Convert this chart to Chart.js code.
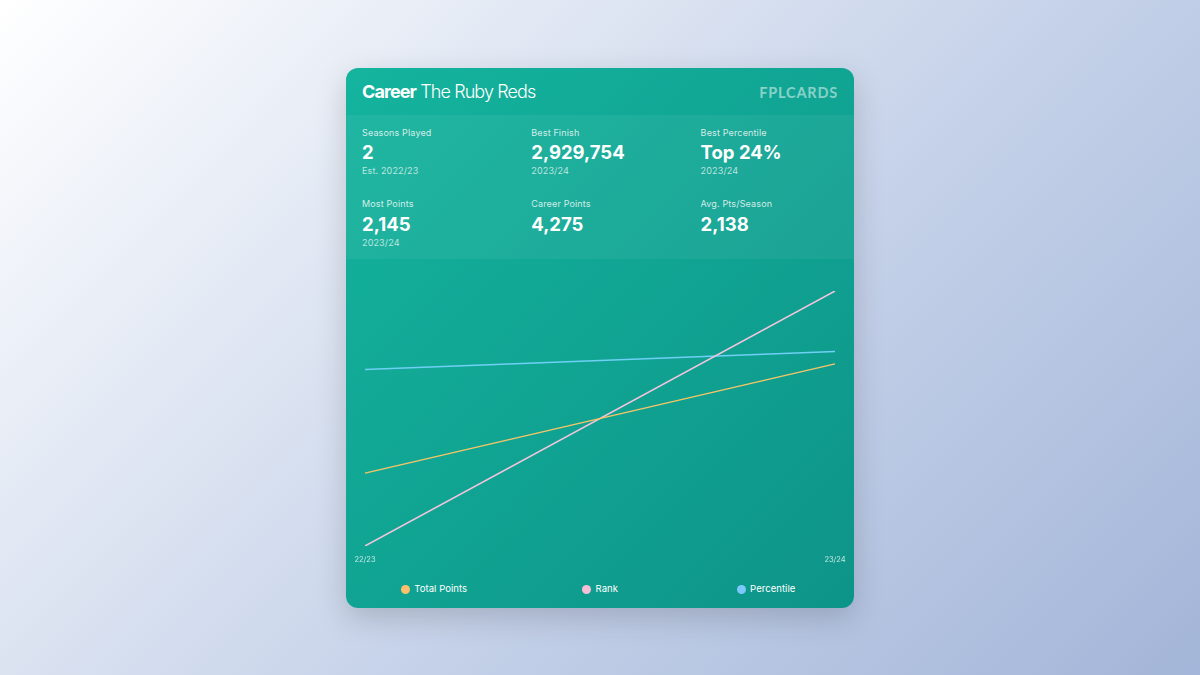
<!DOCTYPE html>
<html>
<head>
<meta charset="utf-8">
<script src="https://cdn.jsdelivr.net/npm/chart.js@4"></script>
<style>
    html, body { margin: 0; width: 1200px; height: 675px; overflow: hidden; }
    body { background: linear-gradient(135deg, #ffffff 0%, #c3d0e8 60%, #a3b5d8 100%); font-family: Inter, sans-serif; color: #fff; }
    .card { position: absolute; left: 346px; top: 68px; width: 508px; height: 540px; border-radius: 12px; overflow: hidden;
        background: linear-gradient(135deg, #14b49e 0%, #0d9488 100%); }
    .shadow { position: absolute; left: 346px; top: 68px; width: 508px; height: 540px; border-radius: 12px;
        box-shadow: 0 10px 30px rgba(0, 0, 0, .17); }
    .title { position: absolute; left: 16px; top: 12px; font-size: 18px; line-height: 24px; letter-spacing: -.9px; font-weight: 300; white-space: nowrap; }
    .title b { font-weight: 700; }
    .logo { position: absolute; right: 16px; top: 15px; font: 700 14.5px/20px Lato, sans-serif; letter-spacing: .8px; color: rgba(255, 255, 255, .5); }
    .stats { position: absolute; left: 0; top: 47px; width: 508px; height: 144px; background: rgba(255, 255, 255, .05); }
    .stat { position: absolute; width: 160px; }
    .stat div { position: absolute; left: 0; white-space: nowrap; }
    .lbl { top: 10.5px; font-size: 9px; line-height: 14px; letter-spacing: .15px; color: rgba(255, 255, 255, .8); }
    .val { top: 25px; font-size: 18.5px; line-height: 24px; font-weight: 700; }
    .sub { top: 49px; font-size: 9px; line-height: 14px; letter-spacing: .15px; color: rgba(255, 255, 255, .7); }
    #wrap { position: absolute; left: 0; top: 191px; width: 508px; height: 316px; }
    #career-chart { display: block; }
    #legend { position: absolute; left: 5px; top: 514px; width: 498px; display: grid; grid-template-columns: repeat(3, 1fr); font-size: 9.5px; line-height: 14px; font-weight: 400; letter-spacing: .05px; }
    #legend div { display: flex; justify-content: center; align-items: center; }
    #legend i { width: 9px; height: 9px; border-radius: 50%; margin-right: 4.5px; }
</style>
</head>
<body>
<div class="shadow"></div>
<div class="card">
    <div class="title"><b>Career</b> The Ruby Reds</div>
    <div class="logo">FPLCARDS</div>
    <div class="stats" id="stats"></div>
    <div id="wrap"><canvas id="career-chart" width="508" height="316"></canvas></div>
    <div id="legend"></div>
</div>
<script>
    // Chart data
    var seasons = ["22/23", "23/24"];
    var totalPoints = [2130, 2145];
    var rank = [6100000, 2929754];
    var percentile = [27, 24];

    // Stat tiles
    var statLabels = ["Seasons Played", "Best Finish", "Best Percentile", "Most Points", "Career Points", "Avg. Pts/Season"];
    var statValues = ["2", "2,929,754", "Top 24%", "2,145", "4,275", "2,138"];
    var statNotes = ["Est. 2022/23", "2023/24", "2023/24", "2023/24", "", ""];

    var statsBox = document.getElementById("stats");
    statLabels.forEach(function (label, i) {
        var tile = document.createElement("div");
        tile.className = "stat";
        tile.style.left = (16 + (i % 3) * 169.3) + "px";
        tile.style.top = (i < 3 ? 0 : 71.5) + "px";
        tile.innerHTML = '<div class="lbl">' + label + '</div><div class="val">' + statValues[i] + '</div><div class="sub">' + statNotes[i] + '</div>';
        statsBox.appendChild(tile);
    });

    // Career Chart
    Chart.defaults.font.family = "Inter, sans-serif";
    var ctx = document.getElementById("career-chart").getContext("2d");
    var careerChart = new Chart(ctx, {
        type: "line",
        data: {
            labels: seasons,
            datasets: [{
                    label: "Total Points",
                    data: totalPoints,
                    yAxisID: "yPoints",
                    borderColor: "#f6c667",
                    backgroundColor: "#fcc06b"
                },
                {
                    label: "Rank",
                    data: rank,
                    yAxisID: "yRank",
                    borderColor: "#f3c5dc",
                    backgroundColor: "#f9bfd6"
                },
                {
                    label: "Percentile",
                    data: percentile,
                    yAxisID: "yPercentile",
                    borderColor: "#6fd0f5",
                    backgroundColor: "#7cc8fb"
                }
            ]
        },
        options: {
            responsive: false,
            animation: false,
            layout: { padding: { left: 19, right: 19, top: 32, bottom: 10 } },
            elements: {
                point: { radius: 0 },
                line: { borderWidth: 1.5, tension: 0 }
            },
            scales: {
                x: {
                    grid: { display: false },
                    border: { display: false },
                    ticks: { color: "rgba(255,255,255,.75)", font: { size: 7.5 }, padding: 1, maxRotation: 0, autoSkip: false }
                },
                yPoints: { display: false, min: 2120, max: 2155 },
                yRank: { display: false, min: 2929754, max: 6100000, reverse: true },
                yPercentile: { display: false, min: 13.9, max: 56.4, reverse: true }
            },
            plugins: {
                tooltip: { enabled: false },
                legend: { display: false }
            }
        }
    });

    // Legend
    var legendBox = document.getElementById("legend");
    careerChart.data.datasets.forEach(function (set) {
        var item = document.createElement("div");
        item.innerHTML = '<i style="background:' + set.backgroundColor + '"></i>' + set.label;
        legendBox.appendChild(item);
    });
</script>
</body>
</html>
